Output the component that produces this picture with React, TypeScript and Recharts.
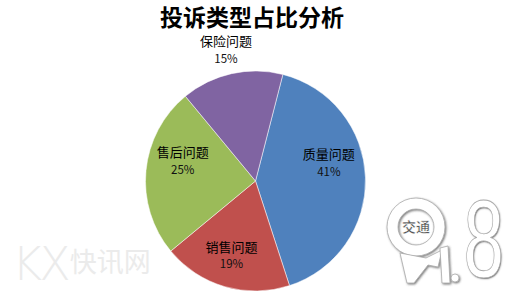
import { PieChart, Pie, Cell } from 'recharts';

const categories = ['质量问题', '销售问题', '售后问题', '保险问题'];
const shares = [41, 19, 25, 15];
const title = '投诉类型占比分析';

const COLORS = ['#4F81BD', '#C0504D', '#9BBB59', '#8064A2'];
// Excel "best fit" label placement: angle nudge (deg) and radius ratio per slice
const LABEL_ANGLE_SHIFT = [13, -2, -11, 0];
const LABEL_RADIUS = [0.69, 0.7, 0.69, 1.23];

const data = categories.map((name, i) => ({ name, value: shares[i] }));

const RAD = Math.PI / 180;
const FONT = '"Noto Sans CJK SC", "Noto Sans", sans-serif';

const renderLabel = (props: any) => {
  const { cx, cy, midAngle, outerRadius, percent, index, name } = props;
  const angle = (midAngle + LABEL_ANGLE_SHIFT[index]) * RAD;
  const r = outerRadius * LABEL_RADIUS[index];
  const x = cx + r * Math.cos(-angle);
  const y = cy + r * Math.sin(-angle);
  return (
    <g>
      <text x={x} y={y - 8} textAnchor="middle" dominantBaseline="central" fontSize={13} fill="#000" fontFamily={FONT}>
        {name}
      </text>
      <text x={x} y={y + 9} textAnchor="middle" dominantBaseline="central" fontSize={11.5} fill="#111" fontFamily={FONT}>
        {`${Math.round(percent * 100)}%`}
      </text>
    </g>
  );
};

// faint station logo, bottom right
const RadioLogo = () => (
  <>
    <svg width={136} height={133} style={{ position: 'absolute', left: 380, top: 170, overflow: 'visible' }}>
      <defs>
        <filter id="sh" filterUnits="userSpaceOnUse" x={0} y={0} width={136} height={133}>
          <feDropShadow dx="1" dy="1" stdDeviation="1.2" floodColor="#555" floodOpacity="0.8" />
        </filter>
      </defs>
      <g filter="url(#sh)" fill="#fff" stroke="#aaa" strokeWidth={0.8}>
        <circle cx={36} cy={57} r={23.5} fill="none" stroke="#fff" strokeWidth={11} />
        <circle cx={36} cy={57} r={29} fill="none" />
        <circle cx={36} cy={57} r={18} fill="none" />
        <path d="M20,83 L27,113 L34,113 L48,95 L58,97 L62,80 L46,88 Z" />
        <path d="M60,78 L68,76 L70,113 L62,113 Z" />
        <circle cx={75} cy={108} r={4} />
      </g>
      <text
        x={36}
        y={62}
        textAnchor="middle"
        fontSize={14}
        fontWeight={700}
        fontFamily={FONT}
        fill="#555"
        stroke="#fff"
        strokeWidth={0.4}
      >
        交通
      </text>
    </svg>
    <div
      style={{
        position: 'absolute',
        left: 455,
        top: 184,
        width: 50,
        textAlign: 'center',
        fontSize: 110,
        lineHeight: '110px',
        fontFamily: '"Liberation Sans", sans-serif',
        color: '#fff',
        WebkitTextStroke: '0.8px #aaa',
        textShadow: '1px 1px 2px #666',
        transform: 'scaleX(0.66)',
      }}
    >
      8
    </div>
  </>
);

export default function App() {
  return (
    <div style={{ position: 'absolute', left: 0, top: 0, width: 516, height: 303, background: '#fff', overflow: 'hidden' }}>
      {/* site watermark, bottom left */}
      <div style={{ position: 'absolute', left: 12, top: 237, fontFamily: FONT, color: '#ebebeb', whiteSpace: 'nowrap' }}>
        <span style={{ fontSize: 46, fontWeight: 300, letterSpacing: -3, fontFamily: '"DejaVu Sans", sans-serif' }}>KX</span>
        <span style={{ fontSize: 27, marginLeft: 2, position: 'relative', top: -8 }}>快讯网</span>
      </div>
      <RadioLogo />

      <div
        style={{
          position: 'absolute',
          left: 0,
          top: 2,
          width: 504,
          textAlign: 'center',
          fontSize: 23,
          fontWeight: 700,
          fontFamily: FONT,
          color: '#000',
          lineHeight: '28px',
        }}
      >
        {title}
      </div>

      <div style={{ position: 'absolute', left: 0, top: 0 }}>
        <PieChart width={516} height={303}>
          <Pie
            data={data}
            dataKey="value"
            nameKey="name"
            cx={250.5}
            cy={176}
            outerRadius={110}
            startAngle={75.6}
            endAngle={-284.4}
            stroke="rgba(255,255,255,0.5)"
            strokeWidth={1}
            label={renderLabel}
            labelLine={false}
            isAnimationActive={false}
          >
            {data.map((d, i) => (
              <Cell key={d.name} fill={COLORS[i]} />
            ))}
          </Pie>
        </PieChart>
      </div>
    </div>
  );
}
